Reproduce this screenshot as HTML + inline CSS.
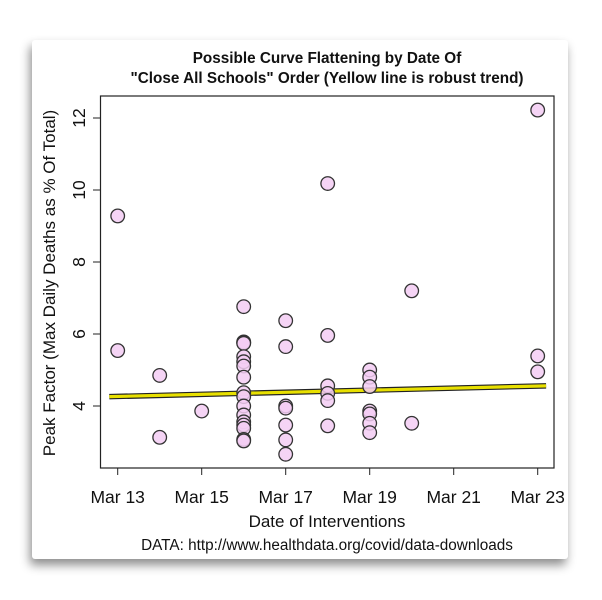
<!DOCTYPE html>
<html><head><meta charset="utf-8"><style>
html,body{margin:0;padding:0;background:#fff;width:602px;height:600px;overflow:hidden}
#card{position:absolute;left:32px;top:40px;width:536px;height:519px;background:#fff;box-shadow:-2px 6px 10px rgba(0,0,0,0.45);border-radius:3px}
svg{position:absolute;left:0;top:0}
text{font-family:"Liberation Sans",Arial,sans-serif;fill:#111}
</style></head><body>
<div id="card"></div>
<svg id="chart" width="602" height="600">
<text x="327" y="63" text-anchor="middle" font-size="15.3" font-weight="bold">Possible Curve Flattening by Date Of</text>
<text x="327" y="83" text-anchor="middle" font-size="15.3" font-weight="bold">"Close All Schools" Order (Yellow line is robust trend)</text>
<rect x="100.5" y="96" width="453.5" height="372" fill="none" stroke="#222" stroke-width="1.2"/>
<text transform="translate(55,283) rotate(-90)" text-anchor="middle" font-size="17">Peak Factor (Max Daily Deaths as % Of Total)</text>
<text x="327" y="527" text-anchor="middle" font-size="17">Date of Interventions</text>
<text x="327" y="550" text-anchor="middle" font-size="15.3">DATA: http://www.healthdata.org/covid/data-downloads</text>
<g id="axes"></g><g id="trend"></g><g id="points"></g>
</svg>
<script>
const xTicks=[13,15,17,19,21,23];
const xTickLabels=["Mar 13","Mar 15","Mar 17","Mar 19","Mar 21","Mar 23"];
const yTicks=[4,6,8,10,12];
const pointDays=[13,13,14,14,15,
16,16,16,16,16,16,16,16,16,16,16,16,16,16,16,16,16,
17,17,17,17,17,17,17,
18,18,18,18,18,18,
19,19,19,19,19,19,19,
20,20,23,23,23];
const pointValues=[9.28,5.54,4.85,3.13,3.86,
6.76,5.78,5.76,5.74,5.37,5.23,5.11,4.8,4.37,4.26,4.0,3.75,3.56,3.47,3.38,3.07,3.03,
6.37,5.65,4.0,3.94,3.47,3.06,2.66,
10.18,5.96,4.56,4.35,4.15,3.45,
5.0,4.8,4.54,3.86,3.78,3.52,3.26,
7.2,3.52,12.22,5.39,4.95];
const trendDays=[12.8,23.2];
const trendValues=[4.26,4.56];

const NS="http://www.w3.org/2000/svg";
function xs(d){return 117.7+(d-13)*42;}
function ys(v){return 406-(v-4)*36;}
function mk(tag,attrs,parent){const e=document.createElementNS(NS,tag);for(const k in attrs)e.setAttribute(k,attrs[k]);parent.appendChild(e);return e;}
const axes=document.getElementById('axes');
xTicks.forEach((d,i)=>{
  const t=mk('line',{x1:xs(d),x2:xs(d),y1:468,y2:475,stroke:'#222','stroke-width':1},axes);
  
  
  const l=mk('text',{x:xs(d),y:503,'text-anchor':'middle','font-size':17.5},axes);
  l.textContent=xTickLabels[i];
  
  
});
yTicks.forEach(v=>{
  const t=mk('line',{x1:93,x2:100.5,y1:ys(v),y2:ys(v),stroke:'#222','stroke-width':1},axes);
  
  
  const l=mk('text',{transform:`translate(${85},${ys(v)}) rotate(-90)`,'text-anchor':'middle','font-size':17.5},axes);
  l.textContent=String(v);
  
  
});
const tr=document.getElementById('trend');
const tl=mk('line',{x1:xs(trendDays[0]),y1:ys(trendValues[0]),x2:xs(trendDays[1]),y2:ys(trendValues[1]),stroke:'#222','stroke-width':5.5},tr);


const tl2=mk('line',{x1:xs(trendDays[0]),y1:ys(trendValues[0]),x2:xs(trendDays[1]),y2:ys(trendValues[1]),stroke:'#e8e000','stroke-width':3.2},tr);


const pg=document.getElementById('points');
pointDays.forEach((d,i)=>{
  const c=mk('circle',{cx:xs(d),cy:ys(pointValues[i]),r:6.8,fill:'#f3cdf3','fill-opacity':0.85,stroke:'#333','stroke-width':1.3},pg);
  
  
});
</script>
</body></html>
